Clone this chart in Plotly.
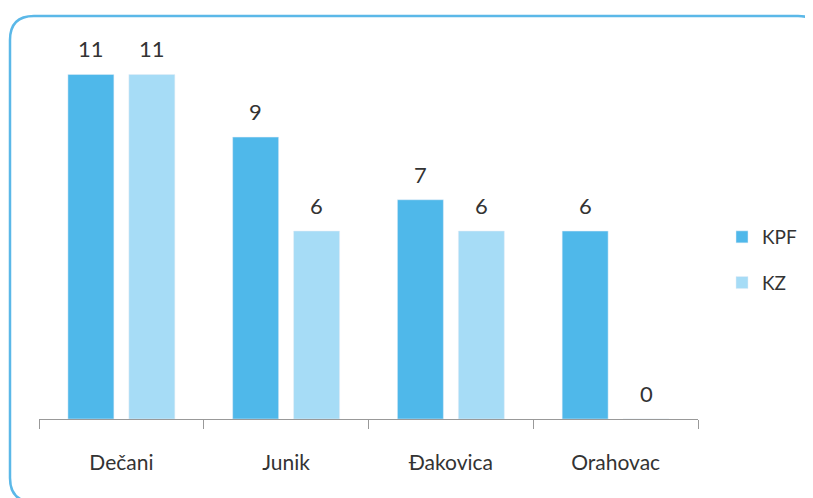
import plotly.graph_objects as go

categories = ["Dečani", "Junik", "Đakovica", "Orahovac"]
kpf = [11, 9, 7, 6]
kz = [11, 6, 6, 0]
series_names = ["KPF", "KZ"]
colors = ["#4fb8ea", "#a6dcf6"]

# page body has an 8px margin, so the figure is laid out 8px smaller/shifted
OFF = 8
W, H = 813 - OFF, 498 - OFF
L, R, T, B = 39 - OFF, 813 - 698, 40 - OFF, 498 - 419
pw, ph = W - L - R, H - T - B
FONT = "Lato"

fig = go.Figure()
offsets = [-0.185, 0.185]
for i, (name, vals) in enumerate(zip(series_names, [kpf, kz])):
    fig.add_trace(go.Bar(
        x=categories, y=vals, name=name, marker_color=colors[i],
        legendgroup=name,
    ))
    for j, v in enumerate(vals):
        fig.add_annotation(x=j + offsets[i], y=v, text=str(v), showarrow=False,
                           yanchor="bottom", yshift=10,
                           font=dict(size=22, color="#333333", family=FONT))

def P(x, y):
    a = (x - OFF - L) / pw
    b = (H - B - (y - OFF)) / ph
    return f"{a:.5f},{b:.5f}"

# rounded border (reference pixel coords)
x0, y0, x1, y1, r = 10, 16, 822, 502, 24
path = (f"M {P(x0 + r, y0)} L {P(x1 - r, y0)} Q {P(x1, y0)} {P(x1, y0 + r)} "
        f"L {P(x1, y1 - r)} Q {P(x1, y1)} {P(x1 - r, y1)} L {P(x0 + r, y1)} "
        f"Q {P(x0, y1)} {P(x0, y1 - r)} L {P(x0, y0 + r)} Q {P(x0, y0)} {P(x0 + r, y0)} Z")
lx = (722 - OFF - L) / pw
ly = (H - B - (218 - OFF)) / ph

fig.update_layout(
    width=W, height=H,
    margin=dict(l=L, r=R, t=T, b=B, autoexpand=False),
    paper_bgcolor="white", plot_bgcolor="white",
    barmode="group", bargap=0.26, bargroupgap=0.246,
    font=dict(family=FONT, color="#333333"),
    xaxis=dict(
        showline=True, linecolor="#999999", linewidth=1,
        ticks="outside", tickson="boundaries", ticklen=9, tickcolor="#999999",
        tickfont=dict(size=21, color="#333333", family=FONT), showgrid=False,
        ticklabelstandoff=25,
    ),
    yaxis=dict(range=[0, 12.1], visible=False, showgrid=False),
    legend=dict(x=lx, y=ly, xanchor="left", yanchor="top",
                font=dict(size=19, color="#333333", family=FONT), tracegroupgap=18,
                bgcolor="rgba(0,0,0,0)"),
    shapes=[dict(type="path", path=path, xref="paper", yref="paper",
                 line=dict(color="#5bb8e8", width=2.5), layer="below")],
    showlegend=True,
)

fig.write_html("out.html")
